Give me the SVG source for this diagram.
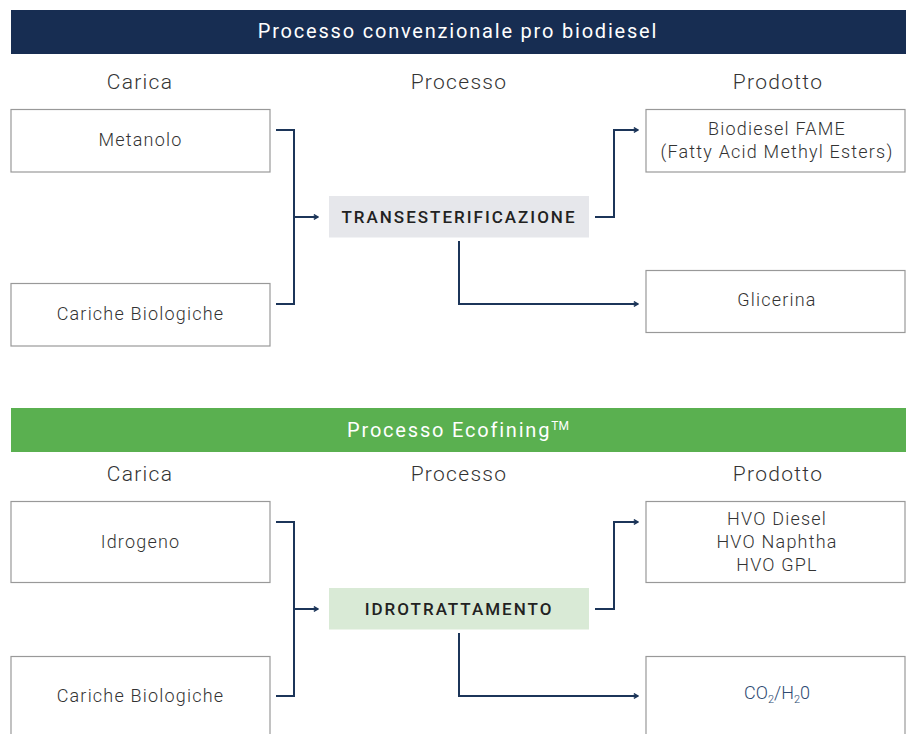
<svg xmlns="http://www.w3.org/2000/svg" width="913" height="734" viewBox="0 0 913 734">
<defs>
<marker id="arr" viewBox="0 0 10 10" refX="9" refY="5" markerWidth="7" markerHeight="7" orient="auto" markerUnits="userSpaceOnUse">
<path d="M3,1.5 L9,5 L3,8.5" fill="none" stroke="#1c3559" stroke-width="2"/>
</marker>
<style>
.banner-t{font-family:Roboto,"Liberation Sans",sans-serif;font-weight:400;font-size:20px;fill:#fff;letter-spacing:1.8px;text-anchor:middle}
.hdr{font-family:Roboto,"Liberation Sans",sans-serif;font-weight:300;font-size:21px;fill:#333;letter-spacing:1.3px;text-anchor:middle}
.box{fill:#fff;stroke:#999;stroke-width:1.2}
.bt{font-family:Roboto,"Liberation Sans",sans-serif;font-weight:300;font-size:18px;fill:#333;letter-spacing:1.2px;text-anchor:middle}
.pt{font-family:Roboto,"Liberation Sans",sans-serif;font-weight:500;font-size:17px;fill:#222;letter-spacing:2px;text-anchor:middle}
.conn{fill:none;stroke:#1c3559;stroke-width:2}
.arrow{fill:none;stroke:#1c3559;stroke-width:2;marker-end:url(#arr)}
</style>
</defs>
<rect width="913" height="734" fill="#fff"/>

<g id="banner1">
<rect x="11" y="10" width="895" height="44" fill="#172d52"/>
<text class="banner-t" x="458" y="38">Processo convenzionale pro biodiesel</text>
</g>
<g id="headers1">
<text class="hdr" x="140" y="89">Carica</text>
<text class="hdr" x="459" y="89">Processo</text>
<text class="hdr" x="778" y="89">Prodotto</text>
</g>
<g id="metanolo"><rect class="box" x="11" y="109.5" width="259" height="62.5"/><text class="bt" x="140.5" y="146">Metanolo</text></g>
<g id="cariche1"><rect class="box" x="11" y="283.5" width="259" height="62.5"/><text class="bt" x="140.5" y="320">Cariche Biologiche</text></g>
<g id="transest"><rect x="329" y="196" width="260" height="41.5" fill="#e6e7eb"/><text class="pt" x="459" y="223">TRANSESTERIFICAZIONE</text></g>
<g id="fame"><rect class="box" x="646" y="109.5" width="259" height="62.5"/><text class="bt" x="777" y="135">Biodiesel FAME</text><text class="bt" x="777" y="158">(Fatty Acid Methyl Esters)</text></g>
<g id="glicerina"><rect class="box" x="646" y="270.5" width="259" height="62"/><text class="bt" x="777" y="306">Glicerina</text></g>

<g id="banner2">
<rect x="11" y="408" width="895" height="44" fill="#5ab050"/>
<text class="banner-t" x="458" y="437">Processo Ecofining<tspan font-size="12" dy="-7" letter-spacing="0">TM</tspan></text>
</g>
<g id="headers2">
<text class="hdr" x="140" y="481">Carica</text>
<text class="hdr" x="459" y="481">Processo</text>
<text class="hdr" x="778" y="481">Prodotto</text>
</g>
<g id="idrogeno"><rect class="box" x="11" y="501.5" width="259" height="81"/><text class="bt" x="140.5" y="548">Idrogeno</text></g>
<g id="cariche2"><rect class="box" x="11" y="656.5" width="259" height="90"/><text class="bt" x="140.5" y="702">Cariche Biologiche</text></g>
<g id="idrotratt"><rect x="329" y="588" width="260" height="41.5" fill="#d9ead6"/><text class="pt" x="459" y="615">IDROTRATTAMENTO</text></g>
<g id="hvo"><rect class="box" x="646" y="501.5" width="259" height="81"/><text class="bt" x="777" y="525">HVO Diesel</text><text class="bt" x="777" y="548">HVO Naphtha</text><text class="bt" x="777" y="571">HVO GPL</text></g>
<g id="co2"><rect class="box" x="646" y="656.5" width="259" height="90"/><text class="bt" x="777" y="699" style="fill:#2e4a72;letter-spacing:0">CO<tspan font-size="11" dy="4">2</tspan><tspan dy="-4">/H</tspan><tspan font-size="11" dy="4">2</tspan><tspan dy="-4">0</tspan></text></g>

<g id="connectors">
<path class="conn" d="M276,130 H294 V304 H276"/>
<path class="arrow" d="M294,217 H318"/>
<path class="arrow" d="M595,217 H614 V130 H638"/>
<path class="arrow" d="M459,241 V304 H638"/>
<path class="conn" d="M276,522 H294 V696 H276"/>
<path class="arrow" d="M294,609 H318"/>
<path class="arrow" d="M595,609 H614 V522 H638"/>
<path class="arrow" d="M459,633 V696 H638"/>
</g>
</svg>
